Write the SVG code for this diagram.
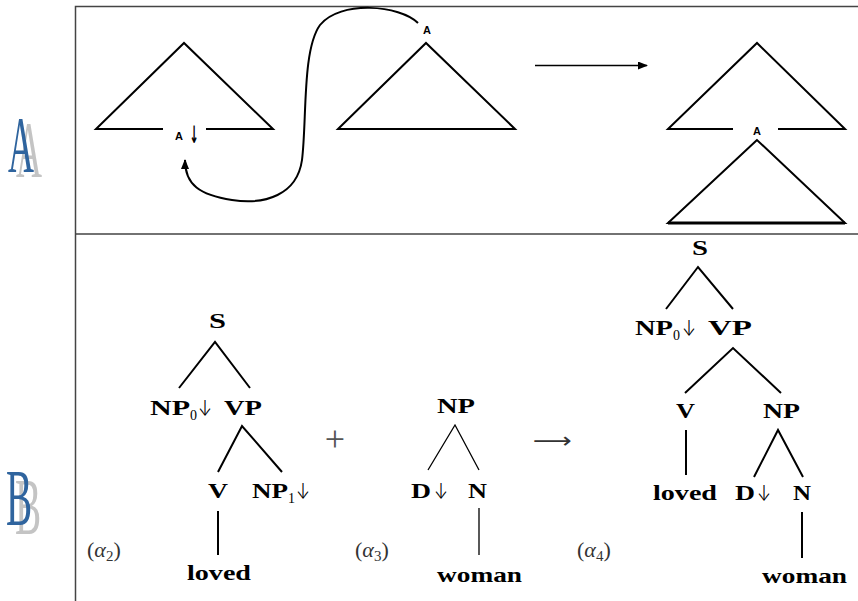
<svg xmlns="http://www.w3.org/2000/svg" width="858" height="601" viewBox="0 0 858 601">
<style>
.frame{stroke:#444;stroke-width:1.5;fill:none}
.tri{stroke:#000;stroke-width:2;fill:none;stroke-linejoin:miter}
.edge{stroke:#000;stroke-width:2;fill:none}
.thin{stroke:#000;stroke-width:1.3;fill:none}
.lab{font-family:"Liberation Serif",serif;font-weight:bold;font-size:21px;fill:#000}
.sub{font-family:"Liberation Serif",serif;font-size:14px;fill:#000}
.arr{font-family:Inter,"DejaVu Sans",sans-serif;font-weight:300;font-size:22px;fill:#000}
.name{font-family:"Liberation Serif",serif;font-size:22px;fill:#333}
.small{font-family:"Liberation Sans",sans-serif;font-weight:bold;font-size:11px;fill:#000}
.big{font-family:"Liberation Serif",serif;font-size:80px}
</style>
<defs>
<marker id="head" markerWidth="10" markerHeight="8" refX="9" refY="4" orient="auto" markerUnits="userSpaceOnUse">
<path d="M0,0 L10,4 L0,8 Z" fill="#000"/>
</marker>
</defs>
<rect width="858" height="601" fill="#fff"/>

<g id="frame">
<path class="frame" d="M75.5,601 V6.5 H858 M75.5,234 H858"/>
</g>

<g id="letterA">
<text class="big" fill="#c4c4c4" transform="translate(16,177) scale(0.45,1)">A</text>
<text class="big" fill="#2f649e" transform="translate(8,172) scale(0.45,1)">A</text>
</g>
<g id="letterB">
<text class="big" fill="#c4c4c4" transform="translate(15,534) scale(0.49,1)">B</text>
<text class="big" fill="#2f649e" transform="translate(6,525) scale(0.49,1)">B</text>
</g>

<g id="initTree">
<path class="tri" d="M163,129 H96 L184,43 L273,129 H206"/>
<text class="small" x="179" y="140" text-anchor="middle">A</text>
<text x="189.5" y="143" font-family="DejaVu Sans,sans-serif" font-weight="bold" font-size="24" textLength="9" lengthAdjust="spacingAndGlyphs">↓</text>
</g>
<g id="auxTree">
<path class="tri" d="M338,129 L426,43 L515,129 Z"/>
<text class="small" x="427" y="34" text-anchor="middle">A</text>
</g>
<g id="resultTop">
<path class="tri" d="M733,129 H668 L757,43 L845,129 H778"/>
<text class="small" x="757" y="135" text-anchor="middle">A</text>
<path class="tri" d="M757,140 L668,223 L845,223 Z"/>
<path d="M668,223 H845" stroke="#000" stroke-width="3"/>
</g>

<g id="connectors">
<path d="M418,23 C400,5 340,0 320,25 C302,50 307,120 302,160 C297,195 265,205 232,200 C200,195 185,185 185,160" stroke="#000" stroke-width="2" fill="none" marker-end="url(#head)"/>
<line x1="535" y1="65.5" x2="647" y2="65.5" stroke="#000" stroke-width="1.5" marker-end="url(#head)"/>
</g>

<g id="alpha2">
<path class="edge" d="M179,388 L215,342 L250,388 M218,472 L242,426 L282,472 M218,511 V555"/>
<text class="lab" x="209" y="328" textLength="17" lengthAdjust="spacingAndGlyphs">S</text>
<text class="lab" x="150" y="415" textLength="40" lengthAdjust="spacingAndGlyphs">NP</text>
<text class="sub" x="190" y="420">0</text>
<text class="arr" x="198" y="416" textLength="14" lengthAdjust="spacingAndGlyphs">↓</text>
<text class="lab" x="224" y="415" textLength="38" lengthAdjust="spacingAndGlyphs">VP</text>
<text class="lab" x="208" y="498" textLength="20" lengthAdjust="spacingAndGlyphs">V</text>
<text class="lab" x="252" y="498" textLength="36" lengthAdjust="spacingAndGlyphs">NP</text>
<text class="sub" x="288" y="503">1</text>
<text class="arr" x="296" y="499" textLength="14" lengthAdjust="spacingAndGlyphs">↓</text>
<text class="lab" x="187" y="580" textLength="64" lengthAdjust="spacingAndGlyphs">loved</text>
<text class="name" x="87" y="557">(<tspan font-style="italic">α</tspan><tspan font-size="15" dy="4">2</tspan><tspan dy="-4">)</tspan></text>
</g>

<text id="plus" x="335" y="451" font-family="Liberation Serif,serif" font-size="36" fill="#555" text-anchor="middle">+</text>

<g id="alpha3">
<path class="thin" d="M428,470 L455,425 L479,470 M479,508 V555"/>
<text class="lab" x="437" y="413" textLength="38" lengthAdjust="spacingAndGlyphs">NP</text>
<text class="lab" x="411" y="498" textLength="20" lengthAdjust="spacingAndGlyphs">D</text>
<text class="arr" x="434" y="499" textLength="14" lengthAdjust="spacingAndGlyphs">↓</text>
<text class="lab" x="468" y="498" textLength="19" lengthAdjust="spacingAndGlyphs">N</text>
<text class="lab" x="437" y="582" textLength="85" lengthAdjust="spacingAndGlyphs">woman</text>
<text class="name" x="355" y="557">(<tspan font-style="italic">α</tspan><tspan font-size="15" dy="4">3</tspan><tspan dy="-4">)</tspan></text>
</g>

<text id="longArrow" x="533" y="448" font-family="DejaVu Sans,sans-serif" font-size="22" fill="#333" textLength="39" lengthAdjust="spacingAndGlyphs">⟶</text>

<g id="alpha4">
<path class="edge" d="M666,309 L698,267 L733,309 M685,393 L733,348 L781,393 M686,430 V475 M754,477 L778,430 L803,477 M802,512 V558"/>
<text class="lab" x="692" y="255" textLength="16" lengthAdjust="spacingAndGlyphs">S</text>
<text class="lab" x="635" y="335" textLength="38" lengthAdjust="spacingAndGlyphs">NP</text>
<text class="sub" x="673" y="340">0</text>
<text class="arr" x="682" y="336" textLength="14" lengthAdjust="spacingAndGlyphs">↓</text>
<text class="lab" x="708" y="335" textLength="44" lengthAdjust="spacingAndGlyphs">VP</text>
<text class="lab" x="676" y="418" textLength="19" lengthAdjust="spacingAndGlyphs">V</text>
<text class="lab" x="763" y="418" textLength="37" lengthAdjust="spacingAndGlyphs">NP</text>
<text class="lab" x="653" y="500" textLength="64" lengthAdjust="spacingAndGlyphs">loved</text>
<text class="lab" x="735" y="500" textLength="20" lengthAdjust="spacingAndGlyphs">D</text>
<text class="arr" x="757" y="501" textLength="14" lengthAdjust="spacingAndGlyphs">↓</text>
<text class="lab" x="793" y="500" textLength="18" lengthAdjust="spacingAndGlyphs">N</text>
<text class="lab" x="762" y="583" textLength="85" lengthAdjust="spacingAndGlyphs">woman</text>
<text class="name" x="577" y="557">(<tspan font-style="italic">α</tspan><tspan font-size="15" dy="4">4</tspan><tspan dy="-4">)</tspan></text>
</g>
</svg>
